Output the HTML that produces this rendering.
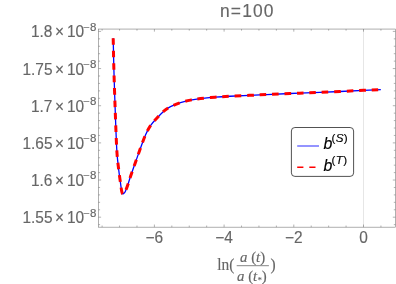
<!DOCTYPE html>
<html><head><meta charset="utf-8"><title>n=100</title>
<style>
html,body{margin:0;padding:0;background:#fff;}
body{width:396px;height:284px;overflow:hidden;font-family:"Liberation Sans",sans-serif;}
svg{display:block;will-change:transform;}
text{font-family:"Liberation Sans",sans-serif;fill:#666666;stroke:#666666;stroke-width:0.14px;}
.ser{font-family:"Liberation Serif",serif;}
</style></head><body>
<svg width="396" height="284" viewBox="0 0 396 284">
<rect width="396" height="284" fill="#fff"/>

<line x1="363.50" y1="29.05" x2="363.50" y2="227.15" stroke="#e6e6e6" stroke-width="1"/>
<rect x="98.50" y="29.05" width="296.90" height="198.10" fill="none" stroke="#666666" stroke-width="0.52"/>
<path d="M102.12 227.15v-1.60M102.12 29.05v1.60M119.55 227.15v-1.60M119.55 29.05v1.60M136.97 227.15v-1.60M136.97 29.05v1.60M154.40 227.15v-2.60M154.40 29.05v2.60M171.82 227.15v-1.60M171.82 29.05v1.60M189.25 227.15v-1.60M189.25 29.05v1.60M206.67 227.15v-1.60M206.67 29.05v1.60M224.10 227.15v-2.60M224.10 29.05v2.60M241.52 227.15v-1.60M241.52 29.05v1.60M258.95 227.15v-1.60M258.95 29.05v1.60M276.38 227.15v-1.60M276.38 29.05v1.60M293.80 227.15v-2.60M293.80 29.05v2.60M311.23 227.15v-1.60M311.23 29.05v1.60M328.65 227.15v-1.60M328.65 29.05v1.60M346.07 227.15v-1.60M346.07 29.05v1.60M363.50 227.15v-2.60M363.50 29.05v2.60M380.93 227.15v-1.60M380.93 29.05v1.60M98.50 31.40h2.60M395.40 31.40h-2.60M98.50 38.83h1.60M395.40 38.83h-1.60M98.50 46.26h1.60M395.40 46.26h-1.60M98.50 53.70h1.60M395.40 53.70h-1.60M98.50 61.13h1.60M395.40 61.13h-1.60M98.50 68.56h2.60M395.40 68.56h-2.60M98.50 75.99h1.60M395.40 75.99h-1.60M98.50 83.42h1.60M395.40 83.42h-1.60M98.50 90.86h1.60M395.40 90.86h-1.60M98.50 98.29h1.60M395.40 98.29h-1.60M98.50 105.72h2.60M395.40 105.72h-2.60M98.50 113.15h1.60M395.40 113.15h-1.60M98.50 120.58h1.60M395.40 120.58h-1.60M98.50 128.02h1.60M395.40 128.02h-1.60M98.50 135.45h1.60M395.40 135.45h-1.60M98.50 142.88h2.60M395.40 142.88h-2.60M98.50 150.31h1.60M395.40 150.31h-1.60M98.50 157.74h1.60M395.40 157.74h-1.60M98.50 165.18h1.60M395.40 165.18h-1.60M98.50 172.61h1.60M395.40 172.61h-1.60M98.50 180.04h2.60M395.40 180.04h-2.60M98.50 187.47h1.60M395.40 187.47h-1.60M98.50 194.90h1.60M395.40 194.90h-1.60M98.50 202.34h1.60M395.40 202.34h-1.60M98.50 209.77h1.60M395.40 209.77h-1.60M98.50 217.20h2.60M395.40 217.20h-2.60M98.50 224.63h1.60M395.40 224.63h-1.60" stroke="#666666" stroke-width="0.5" fill="none"/>
<g>
<path d="M113.20 38.30 C113.32 43.58 113.57 58.05 113.90 70.00 C114.23 81.95 114.72 96.67 115.20 110.00 C115.68 123.33 116.22 140.05 116.80 150.00 C117.38 159.95 118.04 163.90 118.70 169.70 C119.36 175.50 120.27 181.30 120.75 184.80 C121.23 188.30 121.36 189.35 121.60 190.70 C121.84 192.05 122.00 192.37 122.20 192.90 C122.40 193.43 122.57 193.80 122.80 193.90 C123.03 194.00 123.33 193.67 123.60 193.50 C123.87 193.33 124.10 193.28 124.40 192.90 C124.70 192.52 125.05 191.95 125.40 191.20 C125.75 190.45 126.09 189.47 126.50 188.40 C126.91 187.33 127.18 186.78 127.85 184.80 C128.52 182.82 129.22 180.27 130.50 176.50 C131.78 172.73 133.83 166.93 135.50 162.20 C137.17 157.47 138.83 152.65 140.50 148.10 C142.17 143.55 143.83 138.63 145.50 134.90 C147.17 131.17 148.67 128.43 150.50 125.70 C152.33 122.97 154.33 120.88 156.50 118.50 C158.67 116.12 161.17 113.37 163.50 111.40 C165.83 109.43 167.67 108.16 170.50 106.70 C173.33 105.24 177.17 103.75 180.50 102.65 C183.83 101.55 187.17 100.78 190.50 100.10 C193.83 99.42 196.42 99.03 200.50 98.55 C204.58 98.07 210.08 97.58 215.00 97.20 C219.92 96.82 222.50 96.64 230.00 96.25 C237.50 95.86 250.00 95.31 260.00 94.85 C270.00 94.39 280.00 93.91 290.00 93.50 C300.00 93.09 307.73 92.93 320.00 92.40 C332.27 91.88 353.47 90.82 363.60 90.35 C373.73 89.88 377.93 89.72 380.80 89.60" fill="none" stroke="#0000ff" stroke-width="1.3" stroke-linejoin="round"/>
<path d="M113.20 38.30 C113.32 43.58 113.57 58.05 113.90 70.00 C114.23 81.95 114.72 96.67 115.20 110.00 C115.68 123.33 116.22 140.05 116.80 150.00 C117.38 159.95 118.04 163.90 118.70 169.70 C119.36 175.50 120.27 181.30 120.75 184.80 C121.23 188.30 121.36 189.35 121.60 190.70 C121.84 192.05 122.00 192.37 122.20 192.90 C122.40 193.43 122.57 193.80 122.80 193.90 C123.03 194.00 123.33 193.67 123.60 193.50 C123.87 193.33 124.10 193.28 124.40 192.90 C124.70 192.52 125.05 191.95 125.40 191.20 C125.75 190.45 126.09 189.47 126.50 188.40 C126.91 187.33 127.18 186.78 127.85 184.80 C128.52 182.82 129.22 180.27 130.50 176.50 C131.78 172.73 133.83 166.93 135.50 162.20 C137.17 157.47 138.83 152.65 140.50 148.10 C142.17 143.55 143.83 138.63 145.50 134.90 C147.17 131.17 148.67 128.43 150.50 125.70 C152.33 122.97 154.33 120.88 156.50 118.50 C158.67 116.12 161.17 113.37 163.50 111.40 C165.83 109.43 167.67 108.16 170.50 106.70 C173.33 105.24 177.17 103.75 180.50 102.65 C183.83 101.55 187.17 100.78 190.50 100.10 C193.83 99.42 196.42 99.03 200.50 98.55 C204.58 98.07 210.08 97.58 215.00 97.20 C219.92 96.82 222.50 96.64 230.00 96.25 C237.50 95.86 250.00 95.31 260.00 94.85 C270.00 94.39 280.00 93.91 290.00 93.50 C300.00 93.09 307.73 92.93 320.00 92.40 C332.27 91.88 353.47 90.82 363.60 90.35 C373.73 89.88 377.93 89.72 380.80 89.60" fill="none" stroke="#ff0000" stroke-width="3.0" stroke-dasharray="6.6 5.85" stroke-linejoin="round"/>
</g>
<g transform="translate(31.00,37.40) scale(1.03,1.045)"><text font-size="15" >1.8</text></g>
<g transform="translate(55.10,37.40) scale(1.03,1.045)"><text font-size="15" >×</text></g>
<g transform="translate(67.00,37.40) scale(1.03,1.045)"><text font-size="15" >10</text></g>
<g transform="translate(83.30,30.70) scale(1.15,1.0)"><text font-size="10.0" >−8</text></g>
<g transform="translate(22.50,74.56) scale(1.03,1.045)"><text font-size="15" >1.75</text></g>
<g transform="translate(55.10,74.56) scale(1.03,1.045)"><text font-size="15" >×</text></g>
<g transform="translate(67.00,74.56) scale(1.03,1.045)"><text font-size="15" >10</text></g>
<g transform="translate(83.30,67.86) scale(1.15,1.0)"><text font-size="10.0" >−8</text></g>
<g transform="translate(31.00,111.72) scale(1.03,1.045)"><text font-size="15" >1.7</text></g>
<g transform="translate(55.10,111.72) scale(1.03,1.045)"><text font-size="15" >×</text></g>
<g transform="translate(67.00,111.72) scale(1.03,1.045)"><text font-size="15" >10</text></g>
<g transform="translate(83.30,105.02) scale(1.15,1.0)"><text font-size="10.0" >−8</text></g>
<g transform="translate(22.50,148.88) scale(1.03,1.045)"><text font-size="15" >1.65</text></g>
<g transform="translate(55.10,148.88) scale(1.03,1.045)"><text font-size="15" >×</text></g>
<g transform="translate(67.00,148.88) scale(1.03,1.045)"><text font-size="15" >10</text></g>
<g transform="translate(83.30,142.18) scale(1.15,1.0)"><text font-size="10.0" >−8</text></g>
<g transform="translate(31.00,186.04) scale(1.03,1.045)"><text font-size="15" >1.6</text></g>
<g transform="translate(55.10,186.04) scale(1.03,1.045)"><text font-size="15" >×</text></g>
<g transform="translate(67.00,186.04) scale(1.03,1.045)"><text font-size="15" >10</text></g>
<g transform="translate(83.30,179.34) scale(1.15,1.0)"><text font-size="10.0" >−8</text></g>
<g transform="translate(22.50,223.20) scale(1.03,1.045)"><text font-size="15" >1.55</text></g>
<g transform="translate(55.10,223.20) scale(1.03,1.045)"><text font-size="15" >×</text></g>
<g transform="translate(67.00,223.20) scale(1.03,1.045)"><text font-size="15" >10</text></g>
<g transform="translate(83.30,216.50) scale(1.15,1.0)"><text font-size="10.0" >−8</text></g>
<g transform="translate(154.40,243.00) scale(1.03,1.045)"><text font-size="15" text-anchor="middle">−6</text></g>
<g transform="translate(224.10,243.00) scale(1.03,1.045)"><text font-size="15" text-anchor="middle">−4</text></g>
<g transform="translate(293.80,243.00) scale(1.03,1.045)"><text font-size="15" text-anchor="middle">−2</text></g>
<g transform="translate(363.50,243.00) scale(1.03,1.045)"><text font-size="15" text-anchor="middle">0</text></g>
<g transform="translate(247.30,17.20) scale(1.03,1.045)"><text font-size="16.9" text-anchor="middle" letter-spacing="1.1">n=100</text></g>
<rect x="291.4" y="127.5" width="62.2" height="48.9" rx="3.5" ry="3.5" fill="#fff" stroke="#333" stroke-width="0.85"/>
<line x1="297.2" y1="146" x2="319" y2="146" stroke="#6666ff" stroke-width="1.4"/>
<line x1="297.2" y1="167.2" x2="319" y2="167.2" stroke="#ff0000" stroke-width="1.5" stroke-dasharray="6.2 5.9"/>
<g transform="translate(323.50,149.00) scale(1.03,1.045)"><text font-size="15.5" font-style="italic" style="fill:#000;stroke:#000">b</text></g>
<g transform="translate(331.40,142.10) scale(1.08,1.0)"><text font-size="10.8" style="fill:#000;stroke:#000" letter-spacing="0.35">(<tspan font-style="italic">S</tspan>)</text></g>
<g transform="translate(323.50,170.70) scale(1.03,1.045)"><text font-size="15.5" font-style="italic" style="fill:#000;stroke:#000">b</text></g>
<g transform="translate(331.40,163.80) scale(1.08,1.0)"><text font-size="10.8" style="fill:#000;stroke:#000" letter-spacing="0.35">(<tspan font-style="italic">T</tspan>)</text></g>
<g transform="translate(217.30,270.30) scale(1.03,1.045)"><text font-size="15" class="ser">ln(</text></g>
<line x1="236.7" y1="265.7" x2="268.9" y2="265.7" stroke="#666666" stroke-width="0.8"/>
<g transform="translate(252.60,261.80) scale(1.09,1.045)"><text font-size="13.6" class="ser" text-anchor="middle"><tspan font-style="italic">a</tspan> (<tspan font-style="italic">t</tspan>)</text></g>
<g transform="translate(251.90,280.70) scale(1.09,1.045)"><text font-size="13.6" class="ser" text-anchor="middle"><tspan font-style="italic">a</tspan> (<tspan font-style="italic">t</tspan><tspan font-size="7.5" dx="0.5" dy="2.4">*</tspan><tspan dy="-2.4">)</tspan></text></g>
<g transform="translate(270.60,270.30) scale(1.03,1.045)"><text font-size="15" class="ser">)</text></g>
</svg></body></html>
